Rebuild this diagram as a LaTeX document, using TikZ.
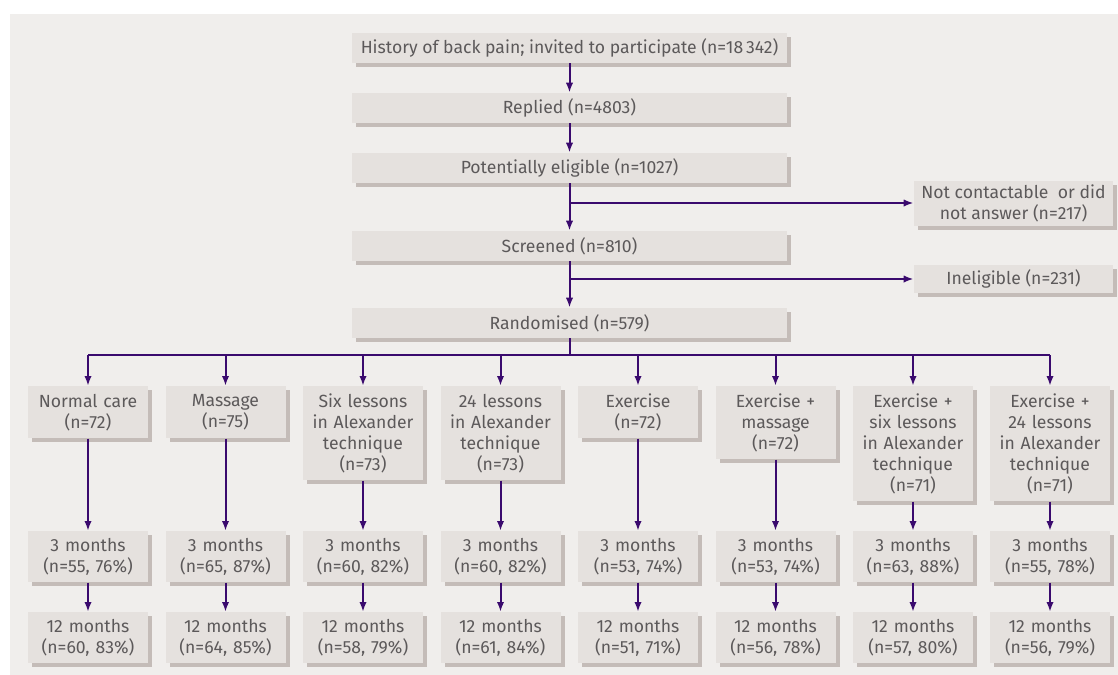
\documentclass[tikz,border=0pt]{standalone}
\usepackage{fontspec}
\setmainfont{Fira Sans}
\usetikzlibrary{arrows.meta,shadows,calc}
\definecolor{panel}{HTML}{F0EEEC}
\definecolor{boxfill}{HTML}{E5E1DE}
\definecolor{shadowc}{HTML}{C4BCB8}
\definecolor{txt}{HTML}{5C595A}
\definecolor{arr}{HTML}{3A0A6E}
\tikzset{
  box/.style={draw=none,fill=boxfill,text=txt,align=center,inner sep=2pt,
    font=\fontsize{13.2}{15.75}\selectfont,
    drop shadow={shadow xshift=3pt,shadow yshift=-3pt,fill=shadowc,opacity=1}},
  mainbox/.style={box,minimum width=326.25pt,minimum height=22.5pt},
  colbox/.style={box,minimum width=89.25pt,text width=86pt,anchor=north},
  flow/.style={draw=arr,line width=1.5pt,-{Latex[length=7.5pt,width=5.5pt]}},
  line/.style={draw=arr,line width=1.5pt}
}
\begin{document}
\begin{tikzpicture}[x=0.75pt,y=-0.75pt]
\useasboundingbox (0,0) rectangle (1118,675);
\fill[panel] (10,14) rectangle (1118,675);
% main column
\node[mainbox] (hist) at (569.5,48) {History of back pain; invited to participate (n=18\,342)};
\node[mainbox] (rep) at (569.5,108) {Replied (n=4803)};
\node[mainbox] (pot) at (569.5,168) {Potentially eligible (n=1027)};
\node[mainbox] (scr) at (569.5,246) {Screened (n=810)};
\node[mainbox] (ran) at (569.5,323) {Randomised (n=579)};
\node[box,minimum width=149.25pt,minimum height=33.75pt] (nc) at (1013.5,203) {Not contactable\ \ or did\\not answer (n=217)};
\node[box,minimum width=149.25pt,minimum height=21pt] (inel) at (1013.5,279) {Ineligible (n=231)};
\draw[flow] (hist) -- (rep);
\draw[flow] (rep) -- (pot);
\draw[flow] (pot) -- (scr);
\draw[flow] (scr) -- (ran);
\coordinate (b1) at (569.5,203);
\coordinate (b2) at (569.5,279);
\draw[flow] (b1) -- (nc.west);
\draw[flow] (b2) -- (inel.west);
% randomisation bus
\coordinate (bus) at (569.5,355);
\coordinate (busL) at (88,355);
\coordinate (busR) at (1050,355);
\draw[line] (ran.south) -- (bus);
\draw[line] (busL) -- (busR);
% columns
\foreach \i/\x/\h/\t/\m/\y in {
  1/88/39/{Normal care\\(n=72)}/{(n=55, 76\%)}/{(n=60, 83\%)},
  2/225.5/39/{Massage\\(n=75)}/{(n=65, 87\%)}/{(n=64, 85\%)},
  3/363/70.5/{Six lessons\\in Alexander\\technique\\(n=73)}/{(n=60, 82\%)}/{(n=58, 79\%)},
  4/500.5/70.5/{24 lessons\\in Alexander\\technique\\(n=73)}/{(n=60, 82\%)}/{(n=61, 84\%)},
  5/638/39/{Exercise\\(n=72)}/{(n=53, 74\%)}/{(n=51, 71\%)},
  6/775.5/54.75/{Exercise +\\massage\\(n=72)}/{(n=53, 74\%)}/{(n=56, 78\%)},
  7/913/86.25/{Exercise +\\six lessons\\in Alexander\\technique\\(n=71)}/{(n=63, 88\%)}/{(n=57, 80\%)},
  8/1050/86.25/{Exercise +\\24 lessons\\in Alexander\\technique\\(n=71)}/{(n=55, 78\%)}/{(n=56, 79\%)}}{
  \node[colbox,minimum height=\h pt] (g\i) at (\x,386) {\t};
  \node[colbox,minimum height=38.25pt] (t\i) at (\x,531) {3 months\\\m};
  \node[colbox,minimum height=38.25pt] (w\i) at (\x,612) {12 months\\\y};
  \coordinate (k\i) at (\x,355);
  \draw[flow] (k\i) -- (g\i.north);
  \draw[flow] (g\i) -- (t\i);
  \draw[flow] (t\i) -- (w\i);
}
\end{tikzpicture}
\end{document}
